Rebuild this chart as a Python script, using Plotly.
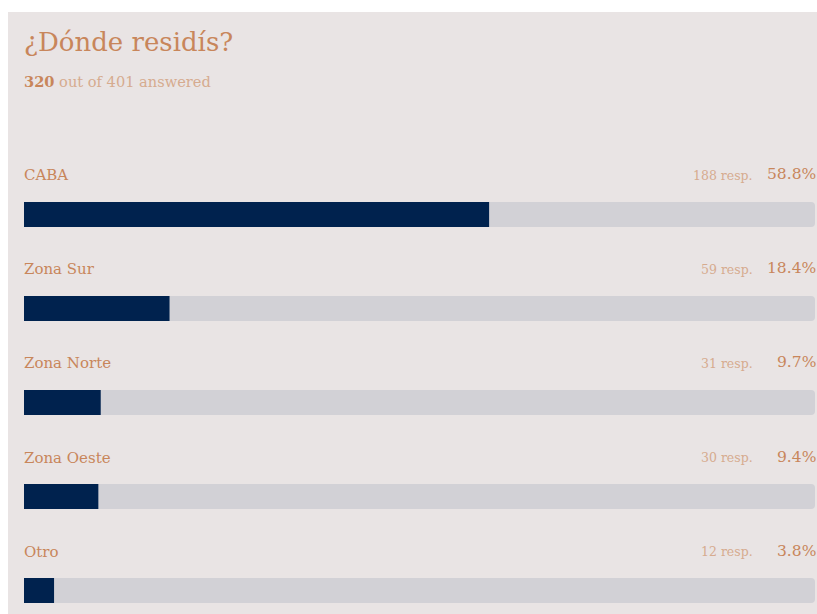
import plotly.graph_objects as go

# Survey results: "¿Dónde residís?"
categories = ["CABA", "Zona Sur", "Zona Norte", "Zona Oeste", "Otro"]
responses = [188, 59, 31, 30, 12]
percents = [58.8, 18.4, 9.7, 9.4, 3.8]
answered = 320
total = 401

FONT = "DejaVu Serif"
ACCENT = "#c8865b"
ACCENT_LIGHT = "#d6ab8f"
NAVY = "#00224e"
TRACK = "#d2d1d6"
PANEL = "#e9e4e4"

fig = go.Figure()

# grey track behind every bar
fig.add_trace(go.Bar(
    y=categories, x=[100] * len(categories), orientation="h",
    marker=dict(color=TRACK, cornerradius=4, line=dict(width=0)),
    width=0.266, hoverinfo="skip", showlegend=False,
))
# share of respondents
fig.add_trace(go.Bar(
    y=categories, x=percents, orientation="h",
    marker=dict(color=NAVY, cornerradius=4, line=dict(width=0)),
    width=0.266, showlegend=False,
    customdata=responses,
    hovertemplate="%{y}: %{customdata} resp. (%{x}%)<extra></extra>",
))

annotations = []
for cat, n, p in zip(categories, responses, percents):
    annotations.append(dict(
        x=0, y=cat, xref="x", yref="y", text=cat, showarrow=False,
        xanchor="left", yanchor="middle", yshift=39, xshift=-2,
        font=dict(family=FONT, size=15, color=ACCENT),
    ))
    annotations.append(dict(
        x=100, y=cat, xref="x", yref="y", text=f"{p:.1f}%", showarrow=False,
        xanchor="right", yanchor="middle", yshift=40, xshift=3,
        font=dict(family=FONT, size=15.5, color=ACCENT),
    ))
    annotations.append(dict(
        x=100, y=cat, xref="x", yref="y", text=f"{n} resp.", showarrow=False,
        xanchor="right", yanchor="middle", yshift=39, xshift=-60,
        font=dict(family=FONT, size=12.5, color=ACCENT_LIGHT),
    ))

annotations.append(dict(
    x=0, y=0.950, xref="x domain", yref="paper", text="¿Dónde residís?",
    showarrow=False, xanchor="left", yanchor="middle", xshift=-2,
    font=dict(family=FONT, size=26, color=ACCENT),
))
annotations.append(dict(
    x=0, y=0.884, xref="x domain", yref="paper",
    text=f"<span style='color:{ACCENT}'><b>{answered}</b></span> out of {total} answered",
    showarrow=False, xanchor="left", yanchor="middle", xshift=-2,
    font=dict(family=FONT, size=14.6, color=ACCENT_LIGHT),
))

fig.update_layout(
    width=817, height=614,
    margin=dict(l=8, r=0, t=12, b=0),
    paper_bgcolor=PANEL, plot_bgcolor=PANEL,
    barmode="overlay",
    xaxis=dict(range=[0, 100], domain=[16 / 809, 807 / 809], visible=False,
               fixedrange=True),
    yaxis=dict(range=[4.25, -2.154], visible=False, fixedrange=True,
               categoryorder="array", categoryarray=categories),
    annotations=annotations,
    shapes=[
        # white page margin to the left of and above the panel
        dict(type="rect", xref="paper", yref="paper", x0=-0.02, x1=0,
             y0=-0.01, y1=1.05, fillcolor="white", line=dict(width=0),
             layer="below"),
        dict(type="rect", xref="paper", yref="paper", x0=-0.02, x1=1.02,
             y0=1, y1=1.05, fillcolor="white", line=dict(width=0),
             layer="below"),
    ],
)

fig.write_html("out.html")
